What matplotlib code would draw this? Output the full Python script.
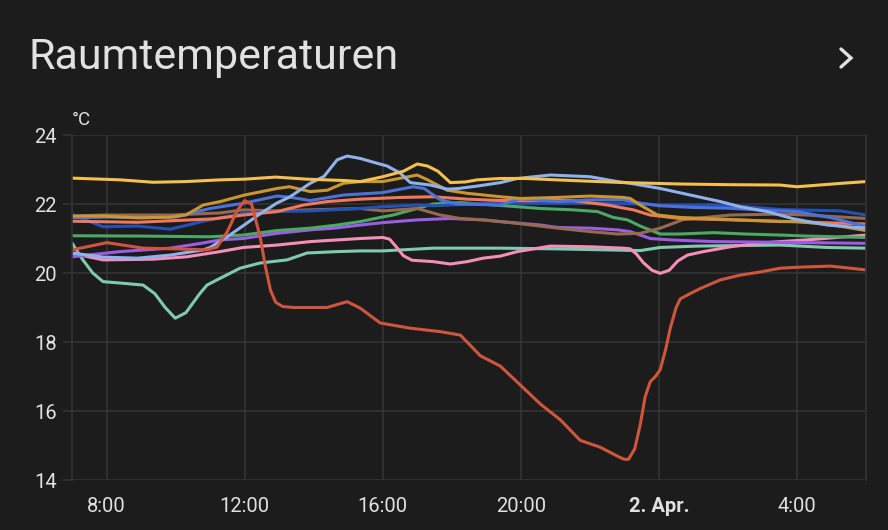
import matplotlib
matplotlib.use("Agg")
import matplotlib.pyplot as plt
from matplotlib.lines import Line2D

# Zeit in Stunden ab 1. April 0:00, Werte in °C
t_gelb = [7.0, 8.4, 9.35, 10.3, 11.3, 12.0, 12.9, 13.8, 14.9, 15.35, 16.0, 16.6, 17.0, 17.3, 17.6, 17.96,
          18.4, 18.74, 19.4, 20.1, 21.5, 23.0, 24.6, 26.0, 27.5, 28.0, 29.3, 30.0]
gelb = [22.75, 22.7, 22.63, 22.65, 22.7, 22.72, 22.78, 22.72, 22.68, 22.65, 22.79, 22.95, 23.16, 23.1, 22.95, 22.62,
        22.64, 22.7, 22.74, 22.74, 22.68, 22.62, 22.58, 22.56, 22.55, 22.5, 22.6, 22.65]

t_hellblau = [7.0, 7.9, 8.9, 9.85, 10.8, 11.0, 11.5, 12.0, 12.5, 12.94, 13.3, 13.9, 14.3, 14.68, 14.97, 15.35,
              15.84, 16.13, 16.5, 16.8, 17.38, 17.87, 18.2, 18.74, 19.41, 19.9, 20.86, 22.01, 22.8, 23.17,
              23.46, 24.04, 24.91, 25.78, 26.36, 27.14, 27.9, 28.88, 30.0]
hellblau = [20.58, 20.46, 20.43, 20.52, 20.67, 20.74, 21.05, 21.4, 21.75, 22.03, 22.2, 22.6, 22.8, 23.28, 23.39, 23.32,
            23.18, 23.1, 22.9, 22.62, 22.55, 22.43, 22.45, 22.52, 22.62, 22.74, 22.84, 22.79, 22.65, 22.6,
            22.55, 22.45, 22.26, 22.07, 21.92, 21.78, 21.57, 21.39, 21.3]

t_gold = [7.0, 7.9, 8.9, 9.85, 10.3, 10.8, 11.29, 12.0, 12.94, 13.3, 13.9, 14.4, 14.86, 15.35, 16.0, 17.0, 17.3,
          17.87, 18.45, 19.41, 19.99, 21.06, 22.01, 22.97, 23.17, 23.46, 23.96, 24.62, 26.07, 27.52, 28.01,
          29.06, 30.0]
gold = [21.65, 21.65, 21.6, 21.62, 21.68, 21.97, 22.07, 22.26, 22.45, 22.5, 22.36, 22.4, 22.6, 22.65, 22.65, 22.84, 22.7,
        22.4, 22.31, 22.21, 22.16, 22.19, 22.23, 22.19, 22.16, 21.97, 21.68, 21.61, 21.55, 21.49, 21.49,
        21.39, 21.23]

t_blau = [7.0, 8.0, 9.0, 10.0, 10.5, 11.0, 11.96, 12.94, 13.3, 13.9, 14.86, 15.35, 16.0, 16.88, 17.2, 17.67,
          18.16, 19.41, 19.99, 21.06, 22.01, 22.97, 23.3, 24.0, 25.0, 26.0, 27.0, 28.0, 29.0, 30.0]
blau = [21.6, 21.62, 21.6, 21.62, 21.75, 21.87, 22.02, 22.23, 22.2, 22.1, 22.26, 22.29, 22.33, 22.5, 22.45, 22.12,
        22.0, 21.97, 22.15, 22.07, 22.12, 22.12, 22.05, 21.95, 21.9, 21.88, 21.82, 21.78, 21.6, 21.35]

t_lachs = [7.0, 8.9, 10.0, 11.1, 11.96, 12.94, 13.7, 14.39, 15.35, 16.51, 17.46, 18.45, 19.41, 20.5, 21.5,
           22.51, 23.26, 23.75, 24.62, 26.07, 27.5, 28.77, 30.0]
lachs = [21.5, 21.47, 21.52, 21.57, 21.68, 21.78, 21.97, 22.07, 22.14, 22.19, 22.21, 22.14, 22.1, 22.1, 22.1,
         21.97, 21.83, 21.68, 21.58, 21.54, 21.5, 21.46, 21.42]

t_navy = [7.0, 7.5, 7.9, 8.9, 9.84, 10.4, 10.8, 11.29, 11.96, 12.94, 13.9, 15.35, 16.0, 17.0, 17.5, 19.41, 20.0,
          22.0, 23.46, 24.0, 25.58, 26.57, 27.52, 29.26, 30.0]
navy = [21.7, 21.5, 21.34, 21.36, 21.27, 21.4, 21.5, 21.6, 21.73, 21.78, 21.8, 21.87, 21.92, 21.97, 21.95, 22.04, 22.02,
        22.02, 22.0, 21.97, 21.97, 21.92, 21.84, 21.8, 21.68]

t_braun = [7.0, 7.9, 9.84, 11.29, 11.96, 12.94, 13.9, 15.35, 16.01, 17.0, 17.67, 18.25, 18.91, 19.41, 20.07,
           21.06, 22.01, 22.8, 23.46, 24.04, 24.71, 26.07, 27.52, 28.3, 30.0]
braun = [21.65, 21.68, 21.68, 21.74, 21.83, 21.8, 21.83, 21.87, 21.8, 21.87, 21.68, 21.58, 21.54, 21.49, 21.42,
         21.3, 21.2, 21.13, 21.15, 21.3, 21.55, 21.68, 21.71, 21.68, 21.58]

t_gruen = [7.0, 9.0, 11.0, 11.96, 12.94, 13.9, 14.68, 15.35, 15.93, 16.3, 17.0, 17.46, 18.25, 19.12, 20.57,
           21.52, 22.22, 22.68, 23.09, 23.46, 24.04, 24.62, 25.58, 26.5, 27.52, 28.3, 30.0]
gruen = [21.08, 21.07, 21.05, 21.1, 21.23, 21.3, 21.39, 21.49, 21.61, 21.68, 21.87, 22.0, 22.04, 21.98, 21.87,
         21.83, 21.78, 21.61, 21.54, 21.36, 21.13, 21.13, 21.17, 21.13, 21.1, 21.07, 21.03]

t_lila = [7.0, 8.39, 9.84, 10.8, 11.29, 11.96, 12.94, 13.9, 14.6, 15.35, 16.01, 17.0, 17.96, 18.91, 19.41,
          20.57, 21.06, 22.01, 22.8, 23.17, 23.46, 23.75, 24.33, 25.58, 27.52, 30.0]
lila = [20.47, 20.62, 20.72, 20.87, 20.96, 21.0, 21.15, 21.25, 21.3, 21.39, 21.46, 21.54, 21.58, 21.54, 21.49,
        21.39, 21.32, 21.3, 21.25, 21.2, 21.1, 21.0, 20.96, 20.91, 20.89, 20.86]

t_rosa = [7.0, 7.9, 9.35, 10.33, 11.29, 11.96, 12.94, 13.9, 15.35, 16.01, 16.2, 16.4, 16.6, 16.85, 17.46, 17.96,
          18.45, 18.91, 19.41, 19.9, 20.86, 22.01, 22.97, 23.17, 23.35, 23.55, 23.8, 24.04, 24.3, 24.55, 24.83,
          25.29, 26.07, 26.86, 27.52, 28.3, 30.0]
rosa = [20.57, 20.38, 20.4, 20.47, 20.62, 20.74, 20.81, 20.91, 21.0, 21.03, 20.98, 20.75, 20.5, 20.37, 20.33, 20.26,
        20.33, 20.43, 20.49, 20.62, 20.78, 20.76, 20.72, 20.7, 20.55, 20.3, 20.08, 19.99, 20.08, 20.35, 20.52,
        20.62, 20.76, 20.86, 20.91, 20.96, 21.1]

t_tuerkis = [7.0, 7.3, 7.6, 7.9, 8.5, 9.06, 9.4, 9.7, 9.99, 10.3, 10.7, 10.91, 11.2, 11.87, 12.45, 13.23, 13.81,
             14.68, 15.35, 16.0, 17.46, 19.41, 21.0, 23.46, 24.04, 25.12, 27.52, 28.88, 30.0]
tuerkis = [20.87, 20.4, 20.0, 19.75, 19.7, 19.65, 19.4, 19.0, 18.69, 18.85, 19.4, 19.65, 19.8, 20.14, 20.29, 20.38,
           20.58, 20.62, 20.64, 20.64, 20.72, 20.72, 20.7, 20.65, 20.74, 20.78, 20.81, 20.74, 20.72]

t_rot = [7.0, 8.01, 9.06, 10.0, 10.91, 11.2, 11.5, 11.78, 12.0, 12.2, 12.45, 12.6, 12.75, 12.9, 13.1, 13.41,
         14.39, 14.97, 15.35, 15.93, 16.8, 17.67, 18.25, 18.83, 19.41, 19.99, 20.57, 21.14, 21.72, 22.3, 22.88,
         23.0, 23.12, 23.3, 23.46, 23.6, 23.75, 23.9, 24.04, 24.2, 24.33, 24.5, 24.62, 24.9, 25.2, 25.78,
         26.36, 26.94, 27.52, 28.1, 28.97, 30.0]
rot = [20.67, 20.88, 20.72, 20.7, 20.67, 20.75, 21.2, 21.8, 22.1, 22.0, 21.05, 20.2, 19.5, 19.15, 19.03, 19.0,
       19.0, 19.17, 18.98, 18.55, 18.4, 18.3, 18.2, 17.6, 17.3, 16.75, 16.2, 15.75, 15.15, 14.95, 14.65,
       14.6, 14.6, 14.9, 15.6, 16.4, 16.85, 17.0, 17.2, 17.8, 18.4, 19.0, 19.25, 19.4, 19.55, 19.8,
       19.94, 20.03, 20.14, 20.17, 20.2, 20.09]

tick_pos = [8, 12, 16, 20, 24, 28]
tick_labels = ["8:00", "12:00", "16:00", "20:00", "2. Apr.", "4:00"]
y_ticks = [14, 16, 18, 20, 22, 24]

bg = "#1c1c1c"
grid = "#343434"
txt = "#e1e1e1"
plt.rcParams["font.family"] = ["Roboto", "DejaVu Sans"]

fig = plt.figure(figsize=(8.88, 5.30), dpi=100, facecolor=bg)
ax = fig.add_axes([72 / 888, 1 - 480 / 530, (866 - 72) / 888, (480 - 135) / 530])
ax.set_facecolor(bg)

serien = [
    (t_tuerkis, tuerkis, "#7fcbb0"),
    (t_rosa, rosa, "#f48fb8"),
    (t_lila, lila, "#9b5de5"),
    (t_gruen, gruen, "#4ca865"),
    (t_braun, braun, "#966a4e"),
    (t_navy, navy, "#2451b7"),
    (t_lachs, lachs, "#f2785c"),
    (t_blau, blau, "#4c72d8"),
    (t_gold, gold, "#c9962f"),
    (t_hellblau, hellblau, "#8fb1ee"),
    (t_gelb, gelb, "#f4c04e"),
    (t_rot, rot, "#d0553d"),
]
for t, v, c in serien:
    ax.plot(t, v, color=c, lw=2.2, solid_capstyle="round", solid_joinstyle="round")

ax.set_xlim(7, 30)
ax.set_ylim(14, 24)
ax.set_yticks(y_ticks)
ax.set_yticklabels([str(y) for y in y_ticks])
ax.set_xticks(tick_pos)
ax.set_xticklabels(tick_labels)
ax.get_xticklabels()[4].set_fontweight("bold")

ax.grid(True, color=grid, lw=1.2)
for s in ["top", "bottom"]:
    ax.spines[s].set_visible(False)
for s in ["left", "right"]:
    ax.spines[s].set_color(grid)
    ax.spines[s].set_linewidth(1.2)
ax.tick_params(axis="y", length=6.5, width=1.2, color=grid, pad=4.5, labelsize=14.5, labelcolor=txt)
ax.tick_params(axis="x", length=0, pad=12, labelsize=14.5, labelcolor=txt)

fig.text(72 / 888, 1 - 120 / 530, "°C", color=txt, fontsize=13.5, va="center", ha="left")
fig.text(28 / 888, 1 - 69 / 530, "Raumtemperaturen", color=txt, fontsize=31, va="baseline", ha="left")

# Pfeil rechts oben
fig.add_artist(Line2D([841 / 888, 851 / 888, 841 / 888], [1 - 49 / 530, 1 - 58 / 530, 1 - 67 / 530],
                      color=txt, lw=2.4, solid_capstyle="round", solid_joinstyle="miter"))

fig.savefig("out.png", dpi=100, facecolor=bg)
